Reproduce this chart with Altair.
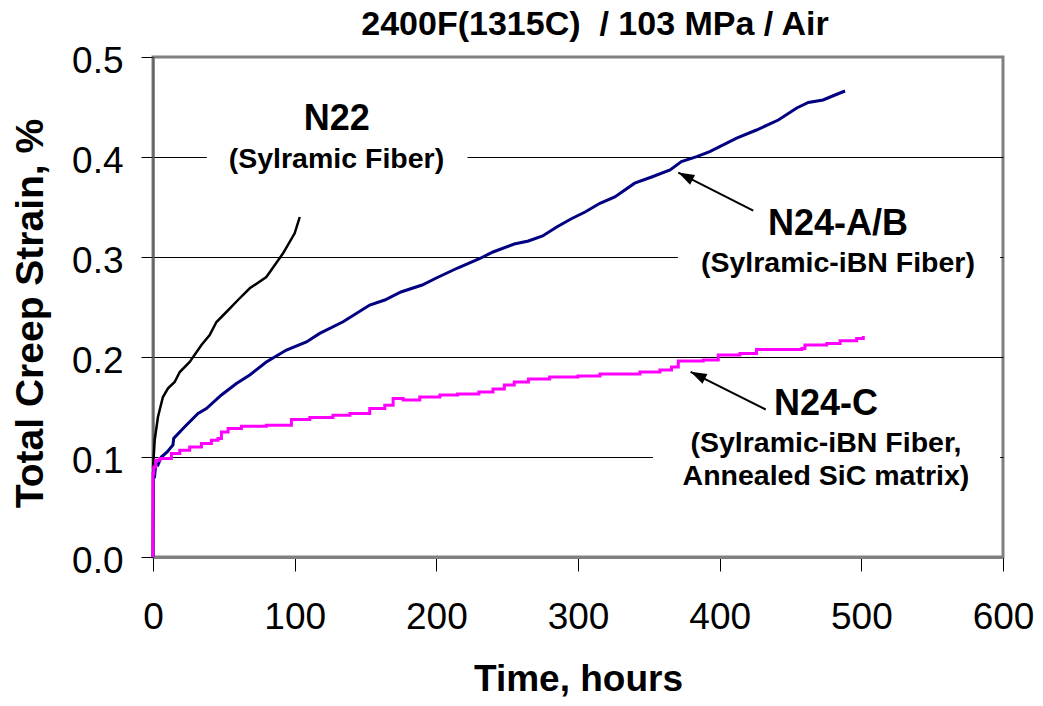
import math
import altair as alt
import pandas as pd

# ---------------- data ----------------
n22_t = [0, 1.2, 3.5, 7, 10.6, 15.3, 18.9, 25.9, 34.2, 40, 44.8, 51.8, 60, 68.3, 80, 91.8, 100, 103.6]
n22_s = [0.0885, 0.117, 0.140, 0.160, 0.1686, 0.175, 0.185, 0.195, 0.212, 0.222, 0.235, 0.245, 0.257,
         0.2687, 0.280, 0.3037, 0.3237, 0.340]

n24ab_t = [0, 0.3, 1.0, 2.0, 3.5, 5.9, 10, 14.1, 14.6, 21.2, 31.8, 37.7, 48.3, 58.9, 68.3, 80, 94.2,
           108.3, 117.7, 134.2, 153, 163.6, 175, 190, 200, 215, 230, 240, 255, 265, 275, 285, 295,
           305, 315.5, 326, 340, 352, 365, 373, 383.8, 393, 412, 426, 441.4, 454.4, 462.6, 473,
           481.4, 488.5]
n24ab_s = [0, 0.088, 0.079, 0.093, 0.092, 0.100, 0.105, 0.112, 0.1185, 0.1285, 0.1435, 0.1485, 0.162,
           0.1735, 0.182, 0.195, 0.207, 0.215, 0.2236, 0.2352, 0.252, 0.257, 0.265, 0.272, 0.279,
           0.289, 0.298, 0.305, 0.313, 0.316, 0.321, 0.330, 0.338, 0.345, 0.3537, 0.360, 0.3738,
           0.380, 0.387, 0.3954, 0.4004, 0.4054, 0.4188, 0.427, 0.437, 0.449, 0.4545, 0.457, 0.462,
           0.466]

n24c_t = [0, 0, 0.5, 1.9, 4.7, 13, 13, 18.9, 25.9, 34.2, 41.2, 45.9, 48.3, 53, 62.4, 80, 97.7, 110.7,
          127, 139, 153, 163.6, 169.5, 176.6, 188.3, 202.5, 215, 230, 240, 248, 255, 265, 280, 300,
          315.5, 343.7, 357.8, 366, 370.8, 388.4, 399, 414.3, 426, 458, 460.2, 475.6, 485, 496.7,
          501.4]
n24c_s = [0, 0.0835, 0.090, 0.0968, 0.0985, 0.100, 0.1035, 0.1068, 0.110, 0.1135, 0.1168, 0.1185,
          0.125, 0.1285, 0.1308, 0.1318, 0.1375, 0.1395, 0.1418, 0.1435, 0.1485, 0.1518, 0.1585,
          0.157, 0.160, 0.162, 0.163, 0.165, 0.168, 0.172, 0.175, 0.178, 0.180, 0.181, 0.183, 0.185,
          0.187, 0.190, 0.196, 0.197, 0.202, 0.2036, 0.2076, 0.2086, 0.212, 0.2136, 0.2162, 0.2186,
          0.221]

x_ticks = [0, 100, 200, 300, 400, 500, 600]
y_ticks = [0.0, 0.1, 0.2, 0.3, 0.4, 0.5]

title_text = "2400F(1315C)\u00a0 / 103 MPa / Air"
x_title = "Time, hours"
y_title = "Total Creep Strain, %"

# annotation texts and their anchor points (data units)
head_text = ["N22", "N24-A/B", "N24-C"]
head_t = [129.7, 483.5, 475.0]
head_s = [0.4271, 0.322, 0.1418]

sub_text = ["(Sylramic Fiber)", "(Sylramic-iBN Fiber)", "(Sylramic-iBN Fiber,", "Annealed SiC matrix)"]
sub_t = [129.5, 483.5, 475.0, 475.0]
sub_s = [0.3888, 0.2853, 0.1051, 0.0718]

# white text boxes (data units) that hide the gridlines behind the labels
box_t = [38, 370.5, 352.9]
box_t2 = [222, 598, 598]
box_s = [0.36, 0.265, 0.055]
box_s2 = [0.45, 0.335, 0.155]

# arrows: tail -> head (data units)
arr_tail_t = [423.7, 432.5]
arr_tail_s = [0.3464, 0.1475]
arr_head_t = [370.8, 379.5]
arr_head_s = [0.3844, 0.1852]

# ---------------- chart ----------------
W, H = 850, 500
F = "Liberation Sans, Arial, sans-serif"

xs = alt.Scale(domain=[0, 600], nice=False, zero=False)
ys = alt.Scale(domain=[0, 0.5], nice=False, zero=False)


def curve(ts, ss):
    return pd.DataFrame({"t": ts, "s": ss, "i": list(range(len(ts)))})


angles = []
for tt, ts_, ht, hs in zip(arr_tail_t, arr_tail_s, arr_head_t, arr_head_s):
    dx = (ht - tt) * W / 600.0
    dy = -(hs - ts_) * H / 0.5
    angles.append((math.degrees(math.atan2(dx, -dy)) + 360) % 360)

arrows = pd.DataFrame({"t": arr_tail_t, "s": arr_tail_s, "t2": arr_head_t, "s2": arr_head_s,
                       "angle": angles})
boxes = pd.DataFrame({"t": box_t, "t2": box_t2, "s": box_s, "s2": box_s2})
heads = pd.DataFrame({"label": head_text, "t": head_t, "s": head_s})
subs = pd.DataFrame({"label": sub_text, "t": sub_t, "s": sub_s})

x_axis = alt.Axis(values=x_ticks, title=x_title, grid=False, labelFont=F, labelFontSize=37,
                  labelColor="black", labelPadding=28, labelFlush=False, labelOverlap=False,
                  tickSize=14, tickColor="black", tickWidth=1, domainColor="#808080",
                  domainWidth=3, titleFont=F, titleFontSize=37, titleFontWeight="bold",
                  titleColor="black", titleY=133, titleBaseline="alphabetic")
y_axis = alt.Axis(values=y_ticks, format=".1f", title=y_title, grid=True,
                  gridColor={"condition": {"test": "datum.value > 0.45 || datum.value < 0.05",
                                           "value": "#808080"}, "value": "black"},
                  gridWidth=1, labelFont=F, labelFontSize=37, labelColor="black", labelPadding=18,
                  labelOffset=4, labelFlush=False, labelOverlap=False, tickSize=12,
                  tickColor="black", tickWidth=1, domainColor="#606060", domainWidth=2,
                  titleFont=F, titleFontSize=39, titleFontWeight="bold", titleColor="black",
                  titleAngle=270, titleX=-111, titleY=256, titleBaseline="alphabetic",
                  titleAlign="center")


def X(field):
    return alt.X(field, scale=xs, axis=x_axis)


def Y(field):
    return alt.Y(field, scale=ys, axis=y_axis)


box_layer = alt.Chart(boxes).mark_rect(color="white", opacity=1).encode(
    x=X("t:Q"), x2="t2:Q", y=Y("s:Q"), y2="s2:Q")

blue = alt.Chart(curve(n24ab_t, n24ab_s)).mark_line(color="#000080", strokeWidth=3).encode(
    x=X("t:Q"), y=Y("s:Q"), order="i:Q")
black = alt.Chart(curve(n22_t, n22_s)).mark_line(color="black", strokeWidth=2.5).encode(
    x=X("t:Q"), y=Y("s:Q"), order="i:Q")
mag = alt.Chart(curve(n24c_t, n24c_s)).mark_line(color="#FF00FF", strokeWidth=3,
                                                 interpolate="step-after").encode(
    x=X("t:Q"), y=Y("s:Q"), order="i:Q")

arrow_line = alt.Chart(arrows).mark_rule(color="black", strokeWidth=2).encode(
    x=X("t:Q"), y=Y("s:Q"), x2="t2:Q", y2="s2:Q")
arrow_head = alt.Chart(arrows).mark_point(
    shape="M0,0L-0.34,1L0.34,1Z", filled=True, color="black", opacity=1, size=1024,
    strokeWidth=0).encode(
    x=X("t2:Q"), y=Y("s2:Q"), angle=alt.Angle("angle:Q", scale=None))

head_layer = alt.Chart(heads).mark_text(font=F, fontSize=36, fontWeight="bold", color="black",
                                        align="center", baseline="alphabetic").encode(
    x=X("t:Q"), y=Y("s:Q"), text="label:N")
sub_layer = alt.Chart(subs).mark_text(font=F, fontSize=28.5, fontWeight="bold", color="black",
                                      align="center", baseline="alphabetic").encode(
    x=X("t:Q"), y=Y("s:Q"), text="label:N")

chart = alt.layer(box_layer, blue, black, mag, arrow_line, arrow_head, head_layer, sub_layer).properties(
    width=W, height=H,
    title=alt.TitleParams(text=title_text, font=F, fontSize=34, fontWeight="bold", color="black",
                          anchor="middle", frame="group", dx=17, dy=41, offset=14,
                          baseline="alphabetic"),
    autosize=alt.AutoSizeParams(type="none"),
    padding={"left": 145, "top": 49, "right": 32, "bottom": 140},
    background="white",
).configure_view(stroke="#808080", strokeWidth=3)

chart.save("out.html", embed_options={"renderer": "svg", "actions": False})
